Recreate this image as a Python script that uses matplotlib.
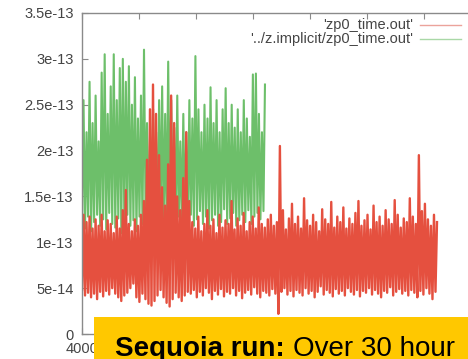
import numpy as np
import matplotlib
matplotlib.use("Agg")
import matplotlib.pyplot as plt
from matplotlib.patches import Rectangle

plt.rcParams['font.family'] = ['Liberation Sans', 'DejaVu Sans']

# values in units of 1e-13
# each run is stored as (low, high) envelope pairs that the trace zigzags between
red_start, red_end = 4000, 7114
red_low = [0.48, 0.42, 0.45, 0.40, 0.44, 0.38, 0.46, 0.41, 0.47, 0.43, 0.50, 0.44,
           0.40, 0.36, 0.42, 0.45, 0.50, 0.55, 0.40, 0.35, 0.44, 0.38, 0.33, 0.31,
           0.36, 0.42, 0.48, 0.40, 0.34, 0.30, 0.38, 0.45, 0.40, 0.36, 0.42, 0.46,
           0.44, 0.48, 0.40, 0.46, 0.42, 0.50, 0.45, 0.38, 0.47, 0.43, 0.49, 0.41,
           0.46, 0.44, 0.50, 0.42, 0.47, 0.39, 0.45, 0.48, 0.43, 0.51, 0.44, 0.40,
           0.47, 0.45, 0.42, 0.49, 0.44, 0.22, 0.46, 0.50, 0.43, 0.47, 0.41, 0.48,
           0.45, 0.42, 0.50, 0.44, 0.47, 0.40, 0.46, 0.52, 0.43, 0.48, 0.45, 0.41,
           0.49, 0.44, 0.47, 0.42, 0.50, 0.46, 0.43, 0.48, 0.41, 0.47, 0.45, 0.50,
           0.43, 0.48, 0.44, 0.40, 0.47, 0.45, 0.51, 0.42, 0.46, 0.49, 0.44, 0.47,
           0.42, 0.48, 0.45, 0.40, 0.47, 0.43, 0.50, 0.44, 0.38, 0.46]
red_high = [1.30, 1.22, 1.28, 1.15, 1.25, 1.18, 1.30, 1.12, 1.24, 1.20, 1.10, 1.28,
            1.15, 1.35, 1.57, 1.20, 1.12, 1.25, 1.18, 1.30, 1.45, 1.90, 2.45, 2.72,
            2.40, 1.95, 1.60, 1.40, 1.85, 2.60, 2.30, 1.50, 1.35, 1.70, 2.20, 1.45,
            1.22, 1.15, 1.28, 1.12, 1.20, 1.35, 1.18, 1.25, 1.10, 1.30, 1.16, 1.24,
            1.20, 1.45, 1.14, 1.26, 1.18, 1.32, 1.12, 1.22, 1.28, 1.15, 1.38, 1.20,
            1.16, 1.25, 1.30, 1.18, 1.22, 2.05, 1.35, 1.14, 1.26, 1.42, 1.20, 1.28,
            1.15, 1.48, 1.24, 1.18, 1.30, 1.22, 1.12, 1.36, 1.25, 1.20, 1.44, 1.16,
            1.28, 1.22, 1.38, 1.15, 1.26, 1.20, 1.32, 1.45, 1.18, 1.24, 1.30, 1.14,
            1.40, 1.22, 1.28, 1.18, 1.35, 1.25, 1.20, 1.46, 1.30, 1.16, 1.26, 1.22,
            1.48, 1.28, 1.20, 1.95, 1.34, 1.42, 1.25, 1.18, 1.30, 1.22]

green_start, green_end = 4000, 5605
green_low = [1.20, 1.15, 1.28, 1.12, 1.22, 1.30, 1.18, 1.25, 1.14, 1.32,
             1.20, 1.16, 1.26, 1.10, 1.22, 1.30, 1.18, 1.24, 1.12, 1.28,
             1.20, 1.35, 1.16, 1.22, 1.30, 1.14, 1.26, 1.20, 1.18, 1.32,
             1.24, 1.15, 1.28, 1.20, 1.22, 1.16, 1.30, 1.18, 1.25, 1.34,
             1.20, 1.28, 1.15, 1.24, 1.30, 1.18, 1.22, 1.36, 1.20, 1.26,
             1.32, 1.18, 1.24, 1.30, 1.22, 1.35, 1.20, 1.28, 1.32, 1.25,
             1.34]
green_high = [2.55, 2.20, 2.75, 2.30, 2.60, 2.10, 2.85, 3.05, 2.40, 2.70,
              3.05, 2.55, 2.90, 3.00, 2.75, 2.92, 2.50, 2.80, 2.35, 2.60,
              3.10, 2.30, 2.15, 2.45, 2.20, 2.55, 2.70, 2.40, 2.97, 2.55,
              2.25, 2.60, 2.10, 2.40, 2.20, 2.55, 2.35, 3.03, 2.45, 2.20,
              2.50, 2.35, 2.69, 2.30, 2.55, 2.20, 2.45, 2.68, 2.30, 2.50,
              2.25, 2.45, 2.20, 2.55, 2.35, 2.15, 2.83, 2.84, 2.40, 2.20,
              2.72]

labels = ["'zp0_time.out'", "'../z.implicit/zp0_time.out'"]
ytick_vals = [0, 0.5, 1.0, 1.5, 2.0, 2.5, 3.0, 3.5]
ytick_labels = ["0", "5e-14", "1e-13", "1.5e-13", "2e-13", "2.5e-13", "3e-13", "3.5e-13"]
xtick_vals = [4000, 4500, 5000, 5500, 6000, 6500, 7000, 7500]
# only the first x label shows, the rest sit under the caption banner
xtick_labels = ["4000", "", "", "", "", "", "", ""]

red_c = '#e5503f'
green_c = '#6dbf6a'
frame_c = '#8a8a8a'
text_c = '#444444'


def zigzag(lo, hi, a, b):
    y = np.column_stack([lo, hi]).ravel()
    x = np.linspace(a, b, len(y))
    return x, y


fig = plt.figure(figsize=(4.68, 3.59), dpi=100)
ax = fig.add_axes([82/468, 25/359, 399/468, 321/359])

gx, gy = zigzag(green_low, green_high, green_start, green_end)
rx, ry = zigzag(red_low, red_high, red_start, red_end)
ax.plot(gx, gy, color=green_c, lw=1.5)
ax.plot(rx, ry, color=red_c, lw=1.7)

ax.set_xlim(4000, 7500)
ax.set_ylim(0, 3.5)
ax.set_yticks(ytick_vals)
ax.set_yticklabels(ytick_labels)
ax.set_xticks(xtick_vals)
ax.set_xticklabels(xtick_labels)
ax.tick_params(direction='in', length=4, width=0.8, color=frame_c,
               labelcolor=text_c, labelsize=10.5, top=True, pad=6)
for s in ax.spines.values():
    s.set_color(frame_c)
    s.set_linewidth(1.0)

# legend, gnuplot style (right aligned text, sample line on the right)
for i, (lab, col) in enumerate(zip(labels, ['#eba39b', '#a9d8a7'])):
    yy = 1 - (25 + 14*i)/359
    fig.text(413/468, yy, lab, ha='right', va='center', fontsize=10.5, color=text_c)
    fig.add_artist(plt.Line2D([420/468, 461/468], [yy, yy], color=col, lw=1.0,
                              transform=fig.transFigure))

# yellow caption banner over the bottom
fig.add_artist(Rectangle((94/468, 0), 1, 42/359, transform=fig.transFigure,
                         facecolor='#ffc800', edgecolor='none', zorder=10))
t1 = fig.text(115/468, 3/359, "Sequoia run:", fontsize=20, fontweight='bold',
              color='black', va='baseline', zorder=11)
fig.canvas.draw()
bb = t1.get_window_extent()
fig.text((bb.x1 + 8)/468, 3/359, "Over 30 hour", fontsize=20,
         color='black', va='baseline', zorder=11)

fig.savefig('out.png', dpi=100)
